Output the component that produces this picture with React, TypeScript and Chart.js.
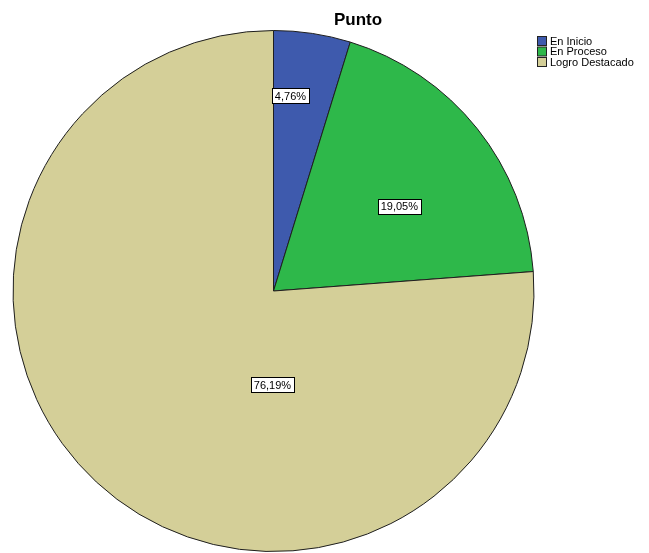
import React, { useEffect, useRef } from "react";
import { Chart, registerables } from "chart.js";

Chart.register(...registerables);

const title = "Punto";
const categories = ["En Inicio", "En Proceso", "Logro Destacado"];
const percentages = [4.76, 19.05, 76.19];
const colors = ["#3e5aad", "#2eb84a", "#d4cf98"];

// label anchor offsets as fractions of the radius (style only)
const labelOffsets = [
  [0.065, -0.75],
  [0.483, -0.326],
  [-0.004, 0.36],
];

const fmt = (v: number) => v.toFixed(2).replace(".", ",") + "%";

const overlayPlugin = {
  id: "overlay",
  afterDatasetsDraw(chart: any) {
    const ctx = chart.ctx;
    const meta = chart.getDatasetMeta(0);
    ctx.save();
    // slice labels
    ctx.font = "11px 'Liberation Sans', Arial, sans-serif";
    ctx.textAlign = "center";
    ctx.textBaseline = "middle";
    meta.data.forEach((arc: any, i: number) => {
      const r = arc.outerRadius;
      const x = arc.x + labelOffsets[i][0] * r;
      const y = arc.y + labelOffsets[i][1] * r;
      const text = fmt(percentages[i]);
      const w = ctx.measureText(text).width + 6;
      const h = 15;
      ctx.fillStyle = "#ffffff";
      ctx.fillRect(Math.round(x - w / 2) + 0.5, Math.round(y - h / 2) + 0.5, Math.round(w), h);
      ctx.strokeStyle = "#000000";
      ctx.lineWidth = 1;
      ctx.strokeRect(Math.round(x - w / 2) + 0.5, Math.round(y - h / 2) + 0.5, Math.round(w), h);
      ctx.fillStyle = "#000000";
      ctx.fillText(text, x, y + 1);
    });
    // title
    ctx.font = "bold 17px 'Liberation Sans', Arial, sans-serif";
    ctx.fillStyle = "#000000";
    ctx.textAlign = "center";
    ctx.textBaseline = "alphabetic";
    ctx.fillText(title, 358, 25);
    // legend
    ctx.font = "11px 'Liberation Sans', Arial, sans-serif";
    ctx.textAlign = "left";
    ctx.textBaseline = "middle";
    categories.forEach((c, i) => {
      const y = 36 + i * 10.5;
      ctx.fillStyle = colors[i];
      ctx.fillRect(537.5, y + 0.5, 9, 9);
      ctx.strokeStyle = "#222";
      ctx.lineWidth = 1;
      ctx.strokeRect(537.5, y + 0.5, 9, 9);
      ctx.fillStyle = "#000";
      ctx.fillText(c, 550, y + 5.5);
    });
    ctx.restore();
  },
};

export default function App() {
  const ref = useRef<HTMLCanvasElement>(null);
  useEffect(() => {
    if (!ref.current) return;
    const chart = new Chart(ref.current, {
      type: "pie",
      data: {
        labels: categories,
        datasets: [
          {
            data: percentages,
            backgroundColor: colors,
            borderColor: "#1e1e1e",
            borderWidth: 1,
          },
        ],
      },
      options: {
        animation: false,
        responsive: false,
        layout: { padding: { left: 12, right: 114, top: 30, bottom: 1 } },
        plugins: {
          legend: { display: false },
          tooltip: { enabled: false },
          title: { display: false },
        },
      },
      plugins: [overlayPlugin],
    });
    return () => chart.destroy();
  }, []);
  return (
    <div style={{ position: "fixed", left: 0, top: 0, width: 649, height: 553, background: "#fff" }}>
      <canvas ref={ref} width={649} height={553} style={{ width: 649, height: 553 }} />
    </div>
  );
}
